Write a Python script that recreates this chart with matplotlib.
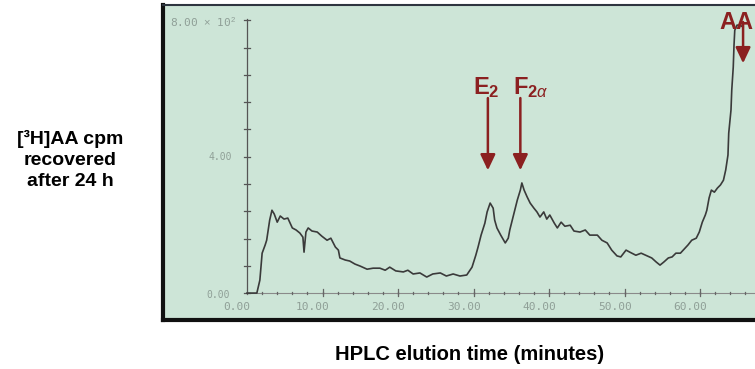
"""
HPLC trace of [3H]AA cpm recovered after 24 h, re-drawn from a scanned slide.
Labels E2, F2a and AA mark the prostaglandin / arachidonic acid peaks.
"""

import matplotlib
matplotlib.use("Agg")
import matplotlib.pyplot as plt

plt.rcParams["font.family"] = ["Liberation Sans", "DejaVu Sans"]
plt.rcParams["mathtext.fontset"] = "custom"
plt.rcParams["mathtext.rm"] = "Liberation Sans"
plt.rcParams["mathtext.bf"] = "Liberation Sans:bold"
plt.rcParams["mathtext.it"] = "Liberation Sans:italic"

# elution time (min) and detector signal (x 10^2 cpm)
time_min = [
    0.0, 1.3, 1.7, 2.0, 2.4, 2.6, 3.0, 3.3, 3.6, 4.0, 4.4, 4.9, 5.4, 6.0,
    6.5, 7.0, 7.4, 7.55, 7.8, 8.1, 8.6, 9.3, 9.9, 10.6, 11.1, 11.7, 12.1,
    12.3, 13.0, 13.6, 14.3, 15.0, 15.9, 16.7, 17.6, 18.3, 18.9, 19.7, 20.7,
    21.3, 22.0, 22.9, 23.8, 24.6, 25.6, 26.4, 27.3, 28.2, 29.1, 29.8, 30.3,
    30.6, 31.0, 31.5, 31.8, 32.2, 32.6, 32.8, 33.1, 33.6, 34.2, 34.6, 34.8,
    35.4, 35.8, 36.2, 36.4, 36.7, 37.1, 37.5, 38.0, 38.4, 38.8, 39.3, 39.7,
    40.1, 40.7, 41.1, 41.6, 42.1, 42.8, 43.3, 44.1, 44.8, 45.4, 46.4, 47.0,
    47.7, 48.3, 49.0, 49.5, 50.2, 50.7, 51.5, 52.2, 53.0, 53.6, 54.2, 54.7,
    55.2, 55.8, 56.3, 56.8, 57.4, 57.9, 58.4, 58.9, 59.5, 59.9, 60.3, 60.7,
    60.9, 61.2, 61.5, 61.9, 62.3, 62.7, 63.1, 63.4, 63.7, 63.8, 64.1, 64.2,
    64.4, 64.5, 64.6, 64.9, 65.3, 65.7,
]
signal = [
    0.0, 0.0, 0.38, 1.17, 1.41, 1.55, 2.14, 2.43, 2.32, 2.08, 2.26, 2.17,
    2.20, 1.91, 1.85, 1.76, 1.64, 1.20, 1.79, 1.91, 1.82, 1.79, 1.67, 1.55,
    1.61, 1.35, 1.26, 1.03, 0.97, 0.94, 0.85, 0.79, 0.70, 0.73, 0.73, 0.67,
    0.76, 0.65, 0.62, 0.67, 0.56, 0.59, 0.47, 0.56, 0.59, 0.50, 0.56, 0.50,
    0.53, 0.76, 1.11, 1.35, 1.70, 2.05, 2.38, 2.64, 2.49, 2.14, 1.91, 1.70,
    1.47, 1.61, 1.85, 2.38, 2.73, 3.02, 3.23, 3.02, 2.82, 2.64, 2.49, 2.38,
    2.23, 2.38, 2.17, 2.29, 2.05, 1.91, 2.08, 1.96, 1.99, 1.82, 1.79, 1.85,
    1.70, 1.70, 1.55, 1.47, 1.26, 1.09, 1.06, 1.26, 1.20, 1.11, 1.17, 1.09,
    1.03, 0.91, 0.82, 0.91, 1.03, 1.06, 1.17, 1.17, 1.29, 1.41, 1.55, 1.61,
    1.79, 2.08, 2.29, 2.43, 2.79, 3.02, 2.96, 3.08, 3.17, 3.31, 3.61, 4.05,
    4.69, 5.37, 5.95, 6.63, 7.27, 7.71, 7.86, 7.86, 7.80,
]

x_tick_vals = [0, 10, 20, 30, 40, 50, 60]
x_tick_labels = ["0.00", "10.00", "20.00", "30.00", "40.00", "50.00", "60.00"]
y_tick_vals = [0.0, 0.8, 1.6, 2.4, 3.2, 4.0, 4.8, 5.6, 6.4, 7.2, 8.0]

peak_labels = [r"$\mathbf{E}_{\mathbf{2}}$", r"$\mathbf{F}_{\mathbf{2}\alpha}$"]
peak_times = [31.9, 36.2]

PANEL = "#cde5d7"
RED = "#8b2020"
FADED = "#8f9f97"


def main():
    fig = plt.figure(figsize=(7.55, 3.69), dpi=100)
    ax = fig.add_axes([163 / 755, 49 / 369, 592 / 755, 315 / 369])
    ax.set_facecolor(PANEL)
    ax.set_xlim(-11.13, 67.28)
    ax.set_ylim(-0.79, 8.45)
    ax.set_xticks([])
    ax.set_yticks([])
    ax.spines["right"].set_visible(False)
    for side in ("left", "bottom"):
        ax.spines[side].set_linewidth(3)
        ax.spines[side].set_color("#111111")
    ax.spines["top"].set_linewidth(1.5)
    ax.spines["top"].set_color("#2e3540")

    # plotter axes inside the photo
    ax.plot([0, 0], [0, 8.05], color="#555555", lw=0.9)
    for v in y_tick_vals:
        ax.plot([-0.45, 0.45], [v, v], color="#555555", lw=0.9)
    ax.plot([0, 67.3], [0, 0], color="#8a8a8a", lw=0.8)
    for t in range(0, 68, 2):
        ax.plot([t, t], [-0.04, 0.04], color="#666666", lw=0.9)
    for t in x_tick_vals[1:]:
        ax.plot([t, t], [-0.1, 0.12], color="#666666", lw=0.9)

    for t, lab in zip(x_tick_vals, x_tick_labels):
        ax.text(t - 1.3, -0.42, lab, fontsize=8, color=FADED, ha="center",
                va="center", family="DejaVu Sans Mono")
    ax.text(-1.5, 7.95, r"8.00 $\times$ 10$^2$", fontsize=8, color=FADED,
            ha="right", va="center", family="DejaVu Sans Mono")
    ax.text(-2.0, 4.0, "4.00", fontsize=7, color=FADED, ha="right",
            va="center", family="DejaVu Sans Mono")
    ax.text(-2.3, -0.05, "0.00", fontsize=7, color=FADED, ha="right",
            va="center", family="DejaVu Sans Mono")

    ax.plot(time_min, signal, color="#3a3a3a", lw=1.2)

    arrow = dict(arrowstyle="-|>,head_length=0.95,head_width=0.45",
                 color=RED, lw=1.8, shrinkA=0, shrinkB=0, mutation_scale=10)
    for label, t, dx in zip(peak_labels, peak_times, [-1.95, -1.0]):
        ax.annotate("", xy=(t, 3.6), xytext=(t, 5.72), arrowprops=arrow)
        ax.text(t + dx, 6.02, label, fontsize=17, color=RED,
                ha="left", va="center")
    ax.annotate("", xy=(65.7, 6.74), xytext=(65.7, 7.95), arrowprops=arrow)
    ax.text(62.6, 7.95, "AA", fontsize=17, color=RED, fontweight="bold",
            ha="left", va="center", clip_on=False)

    fig.text(70 / 755, 1 - 160 / 369, "[³H]AA cpm\nrecovered\nafter 24 h",
             fontsize=14, fontweight="bold", ha="center", va="center",
             linespacing=1.3)
    fig.text(470 / 755, 1 - 355 / 369, "HPLC elution time (minutes)",
             fontsize=14.5, fontweight="bold", ha="center", va="center")

    fig.savefig("out.png", dpi=100)


if __name__ == "__main__":
    main()
